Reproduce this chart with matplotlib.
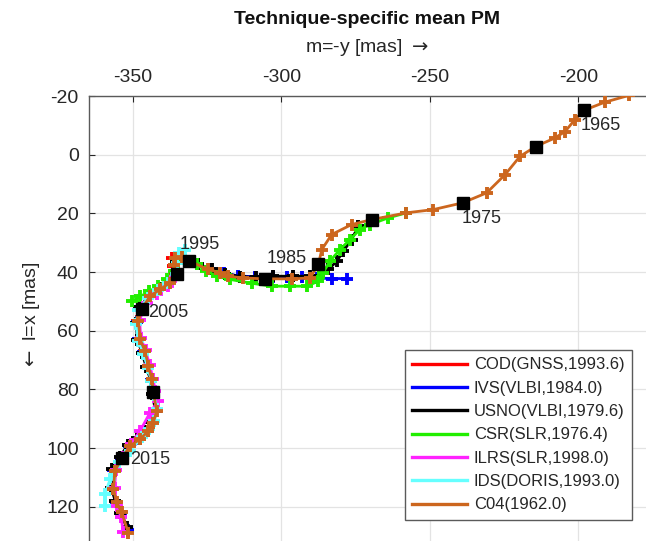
import matplotlib
matplotlib.use("Agg")
import matplotlib.pyplot as plt
from matplotlib.lines import Line2D

plt.rcParams['font.family'] = ['Liberation Sans', 'DejaVu Sans']
plt.rcParams['axes.unicode_minus'] = False

# C04 (1962.0 ->), m = -y [mas], l = x [mas]
c04_x = [-183.0, -191.1, -198.2, -201.2, -204.5, -207.9, -214.4, -219.7, -224.7, -230.9,
         -239.0, -248.9, -257.9, -269.6, -276.4, -283.1, -286.4, -287.6, -290.4, -296.6,
         -305.5, -312.9, -317.9, -320.7, -324.6, -331.0, -333.5, -335.9, -336.2, -335.3,
         -337.5, -340.9, -344.3, -347.1, -348.2, -347.6, -346.0, -344.8, -343.7, -343.2,
         -342.0, -343.2, -344.8, -347.6, -351.0, -353.8, -356.1, -356.6, -355.5, -353.8,
         -351.6]
c04_y = [-20.2, -17.9, -15.1, -11.9, -7.9, -5.7, -2.8, 0.6, 6.8, 13.0,
         16.4, 18.7, 19.8, 22.1, 23.8, 27.2, 32.3, 37.4, 42.0, 42.3,
         42.3, 42.0, 41.4, 40.2, 39.1, 36.3, 35.0, 35.2, 37.5, 40.8,
         43.6, 45.9, 48.2, 52.7, 56.7, 62.9, 66.9, 72.0, 76.5, 80.8,
         87.3, 91.3, 94.1, 96.9, 99.2, 103.5, 107.7, 113.9, 118.5, 121.9,
         128.8]

usno_x = [-274.1, -276.4, -279.2, -281.4, -284.2, -287.5, -290.4, -296.0, -302.8, -308.5,
          -314.0, -319.0, -323.5, -328.0, -332.5, -335.5, -335.8, -337.8, -341.2, -344.8,
          -348.0, -349.0, -348.5, -347.0, -345.5, -344.0, -343.5, -342.5, -344.0, -345.8,
          -348.5, -351.8, -354.5, -357.0, -357.3, -356.0, -354.3, -352.0]
usno_y = [24.4, 28.9, 32.9, 36.3, 39.1, 41.2, 41.4, 41.4, 41.4, 41.8,
          41.5, 40.5, 39.0, 37.3, 36.0, 36.5, 39.5, 43.2, 45.5, 48.5,
          52.0, 57.5, 63.0, 67.5, 72.5, 77.0, 81.5, 87.0, 91.0, 94.0,
          96.5, 99.0, 103.0, 107.0, 113.5, 118.0, 122.0, 127.0]

ivs_x = [-278.0, -283.1, -288.0, -293.0, -298.0, -303.0, -309.0, -314.5, -319.5, -324.0,
         -328.5, -332.5, -335.0, -335.5, -337.5, -341.0, -344.5, -347.5, -348.8, -348.2,
         -346.8, -345.2, -343.8, -343.3, -342.3, -343.8, -345.5, -348.2, -351.5, -354.2,
         -356.8, -357.0, -355.8, -354.0, -351.8]
ivs_y = [42.2, 42.2, 42.0, 41.8, 41.6, 41.5, 41.6, 41.3, 40.3, 38.8,
         37.2, 36.0, 36.8, 40.0, 43.0, 45.3, 48.3, 51.8, 57.0, 62.8,
         67.2, 72.3, 76.8, 81.2, 87.2, 91.2, 94.2, 96.8, 99.2, 103.2,
         107.3, 113.7, 118.3, 122.0, 127.8]

csr_x = [-257.9, -264.0, -270.2, -273.6, -276.9, -280.3, -283.7, -286.0, -287.6, -291.5,
         -297.1, -303.3, -310.0, -317.3, -321.8, -325.5, -328.6, -332.0, -334.8, -336.3,
         -338.5, -341.5, -344.5, -347.5, -350.4]
csr_y = [19.8, 21.5, 23.8, 25.5, 28.9, 32.3, 36.3, 40.2, 43.1, 44.8,
         44.8, 44.8, 43.8, 42.5, 41.4, 39.5, 37.4, 36.6, 37.0, 39.5,
         42.5, 44.8, 46.5, 48.3, 49.9]

cod_x = [-337.0, -336.6, -336.0, -338.0, -341.3, -344.6, -347.6, -348.6, -348.0, -346.4,
         -345.0, -343.9, -343.4, -342.2, -343.4, -345.0, -347.8, -351.2, -354.0, -356.4,
         -356.8, -355.7, -354.0, -351.8]
cod_y = [35.1, 37.8, 40.6, 43.5, 45.8, 48.3, 52.4, 56.8, 62.9, 67.0,
         72.0, 76.6, 80.8, 87.2, 91.2, 94.0, 96.8, 99.2, 103.4, 107.6,
         113.8, 118.4, 121.9, 128.2]

ids_x = [-332.5, -334.6, -335.2, -335.6, -338.2, -341.6, -345.0, -348.3, -349.0, -348.2,
         -346.5, -345.0, -343.8, -343.0, -341.8, -342.8, -344.5, -347.0, -351.0, -354.8,
         -357.7, -359.4, -359.5]
ids_y = [32.3, 33.6, 37.0, 40.5, 43.8, 46.2, 48.8, 53.0, 57.8, 63.5,
         67.8, 72.8, 77.2, 82.0, 86.5, 90.8, 93.6, 96.3, 100.9, 104.8,
         110.5, 115.5, 119.6]

ilrs_x = [-336.0, -338.1, -342.0, -345.4, -347.8, -347.4, -345.8, -344.4, -343.2, -342.6,
          -341.6, -344.3, -347.6, -350.8, -353.4, -355.8, -356.2, -355.5, -354.0, -353.3]
ilrs_y = [41.5, 44.8, 47.6, 50.4, 56.2, 62.4, 66.6, 71.8, 76.4, 80.5,
          84.0, 87.9, 94.1, 98.6, 103.0, 107.5, 113.6, 119.6, 123.5, 128.6]

# epochs every 5 years on C04
epoch_year = [1965, 1970, 1975, 1980, 1985, 1990, 1995, 2000, 2005, 2010, 2015]
epoch_x = [-198.2, -214.4, -239.0, -269.6, -287.6, -305.5, -331.0, -335.3, -347.1, -343.2, -353.8]
epoch_y = [-15.1, -2.8, 16.4, 22.1, 37.4, 42.3, 36.3, 40.8, 52.7, 80.8, 103.5]

labels = ['COD(GNSS,1993.6)', 'IVS(VLBI,1984.0)', 'USNO(VLBI,1979.6)', 'CSR(SLR,1976.4)',
          'ILRS(SLR,1998.0)', 'IDS(DORIS,1993.0)', 'C04(1962.0)']
colors = ['#ff0000', '#0000ff', '#000000', '#22ee00', '#ff22ff', '#66ffff', '#cc661e']
series = [(cod_x, cod_y), (ivs_x, ivs_y), (usno_x, usno_y), (csr_x, csr_y),
          (ilrs_x, ilrs_y), (ids_x, ids_y), (c04_x, c04_y)]

fig = plt.figure(figsize=(6.46, 5.41), dpi=100)
ax = fig.add_axes([0.137, -0.0259, 0.8847, 0.8484])

for (xs, ys), c in zip(series, colors):
    ax.plot(xs, ys, color=c, lw=2.0, marker='+', ms=9, mew=2.8, zorder=3)

ax.plot(epoch_x, epoch_y, ls='none', marker='s', ms=9, color='black', zorder=5)

# year labels every 10 years
label_offsets = {1965: (-2, -11, 'left'), 1975: (-1, -11, 'left'), 1985: (-8, 4, 'right'),
                 1995: (-7, 12, 'left'), 2005: (5, -2, 'left'), 2015: (6, -1, 'left')}
for yr, xv, yv in zip(epoch_year, epoch_x, epoch_y):
    if yr in label_offsets:
        dx, dy, ha = label_offsets[yr]
        ax.annotate(str(yr), (xv, yv), xytext=(dx, dy), textcoords='offset points',
                    ha=ha, va='center', fontsize=13, color='#262626', zorder=6)

ax.set_xlim(-365.0, -172.5)
ax.set_ylim(136.4, -20)
ax.set_xticks([-350, -300, -250, -200])
ax.set_yticks([-20, 0, 20, 40, 60, 80, 100, 120])
ax.xaxis.tick_top()
ax.tick_params(direction='in', length=4, labelsize=14, colors='#262626', pad=7,
               top=True, bottom=False, right=False)
ax.grid(True, color='#e3e3e3', lw=0.9)
ax.set_axisbelow(True)
for s in ax.spines.values():
    s.set_color('#5a5a5a')
    s.set_linewidth(1.0)

fig.text(367 / 646, 1 - 19 / 541, 'Technique-specific mean PM', ha='center', va='center',
         fontsize=14, fontweight='bold', color='#111111')
fig.text(367 / 646, 1 - 48 / 541, r'm=-y [mas] $\rightarrow$', ha='center', va='center',
         fontsize=14, color='#262626')
fig.text(32 / 646, 1 - 316 / 541, r'$\leftarrow$ l=x [mas]', ha='center', va='center',
         rotation=90, fontsize=14, color='#262626')

handles = [Line2D([], [], color=c, lw=2.4) for c in colors]
leg = ax.legend(handles, labels, loc='lower right', bbox_to_anchor=(0.951, 0.0763),
                borderaxespad=0, fontsize=12, handlelength=3.3, handletextpad=0.4,
                labelspacing=0.5, borderpad=0.45, fancybox=False, framealpha=1,
                edgecolor='#5a5a5a')
leg.get_frame().set_linewidth(1.0)
for t in leg.get_texts():
    t.set_color('#262626')

fig.savefig('out.png', dpi=100)
